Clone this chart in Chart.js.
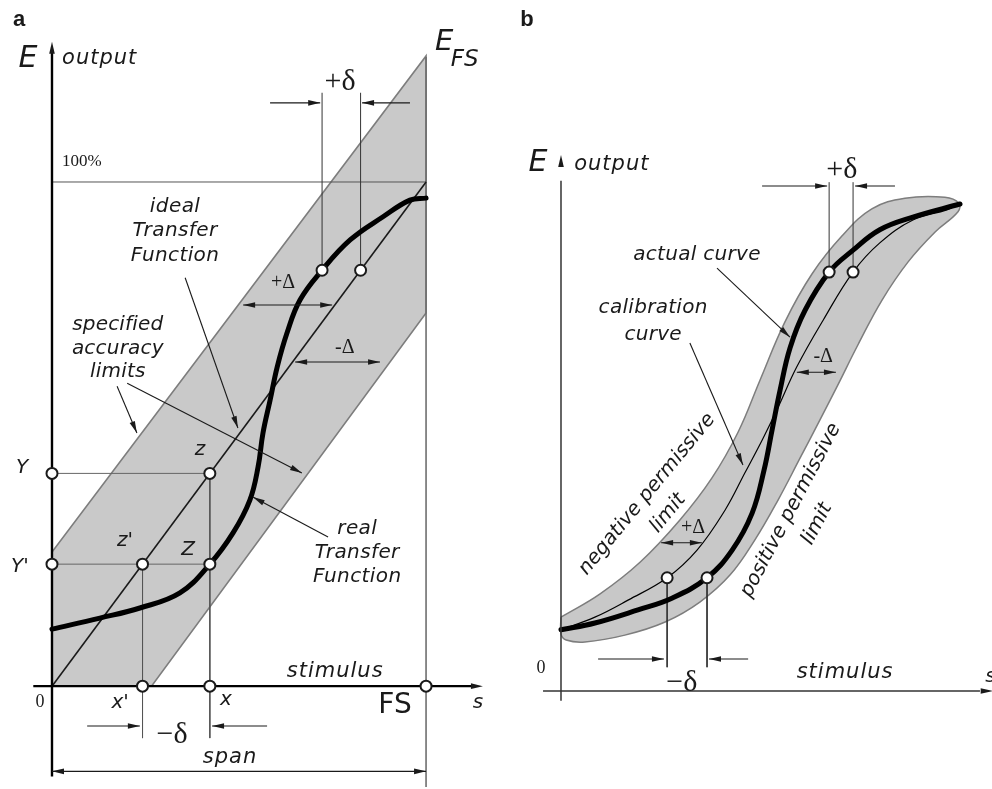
<!DOCTYPE html>
<html>
<head>
<meta charset="utf-8">
<script src="https://cdn.jsdelivr.net/npm/chart.js@4.4.1/dist/chart.umd.min.js"></script>
<style>
  html, body { margin: 0; padding: 0; background: #fff; }
  #wrap { position: relative; width: 992px; height: 789px; overflow: hidden; }
  canvas { position: absolute; top: 0; }
  #chartA { left: 0; }
  #chartB { left: 496px; }
</style>
</head>
<body>
<div id="wrap">
  <canvas id="chartA" width="496" height="789"></canvas>
  <canvas id="chartB" width="496" height="789"></canvas>
</div>
<script>
// ---- panel a : stimulus in % of FS, output in % of E_FS ----
const idealS = [0, 100];
const idealE = [0, 100];
const realS = [0, 12.8, 23.5, 34.2, 42.2, 48.4, 52.9, 55.1, 56.4, 58.3, 60.2, 62.8, 66.3, 72.2, 79.7, 88.5, 95.7, 100];
const realE = [11.3, 13.5, 15.5, 18.5, 24.2, 30.4, 36.9, 43.5, 50.2, 56.7, 63.3, 70.0, 76.6, 82.5, 88.5, 93.1, 96.4, 96.8];
const limitS = [0, 0, 100, 100, 26.6];
const limitE = [0, 26.6, 125, 74, 0];
// marked points: Y, z, Y', z', Z, x', x, FS, real, ideal
const markS = [0, 42.2, 0, 24.2, 42.2, 24.2, 42.2, 100, 72.2, 82.5];
const markE = [42.2, 42.2, 24.2, 24.2, 24.2, 0, 0, 0, 82.5, 82.5];

// ---- panel b ----
const calS = [0, 8.5, 16.8, 26.6, 34.1, 41.1, 46.1, 50.4, 54.1, 59.1, 65.7, 73.2, 79.9, 88.2, 96.7, 100];
const calE = [12.6, 15.2, 18.7, 23.3, 29.0, 37.2, 44.9, 51.6, 57.8, 66.7, 76.3, 86.2, 92.2, 96.9, 99.0, 100.2];
const actS = [0, 8.5, 19.3, 27.8, 36.6, 42.9, 47.9, 50.9, 52.9, 54.9, 57.4, 61.2, 67.2, 73.2, 79.9, 88.2, 100];
const actE = [12.6, 14.0, 16.7, 19.1, 23.3, 29.0, 36.6, 45.5, 53.7, 61.9, 70.6, 78.4, 86.2, 90.7, 94.9, 97.5, 100.2];
const negLimS = [0, 9.8, 19.8, 29.8, 37.8, 44.4, 49.9, 56.1, 62.9, 70.4, 77.9, 86.2, 96.2, 99.7];
const negLimE = [15.2, 20.0, 26.5, 35.2, 43.8, 53.3, 64.0, 75.9, 85.8, 93.6, 99.2, 101.4, 101.6, 100.4];
const posLimS = [99.5, 93.7, 87.0, 80.5, 74.4, 69.4, 64.9, 59.9, 54.4, 48.6, 42.4, 34.8, 26.1, 16.0, 6.0, 1.3, 0];
const posLimE = [98.6, 94.4, 88.3, 80.5, 71.2, 63.0, 55.8, 47.9, 39.3, 31.1, 23.9, 18.3, 14.2, 11.5, 10.1, 10.5, 11.7];
// marked points: calibration low, actual low, actual high, calibration high
const markBS = [26.6, 36.6, 67.2, 73.2];
const markBE = [23.3, 23.3, 86.2, 86.2];

const SANS = '"DejaVu Sans"';
const SERIF = '"Liberation Serif"';
const INK = '#1a1a1a';

function xy(xs, ys) {
  return xs.map((x, i) => ({ x: x, y: ys[i] }));
}

function seg(x1, y1, x2, y2, color, width, order) {
  return {
    data: [{ x: x1, y: y1 }, { x: x2, y: y2 }],
    showLine: true, borderColor: color, borderWidth: width,
    pointRadius: 0, order: order
  };
}

function arrowHead(ctx, x1, y1, x2, y2) {
  const a = Math.atan2(y2 - y1, x2 - x1);
  const L = 12, W = 2.8;
  ctx.beginPath();
  ctx.moveTo(x2, y2);
  ctx.lineTo(x2 - L * Math.cos(a) + W * Math.sin(a), y2 - L * Math.sin(a) - W * Math.cos(a));
  ctx.lineTo(x2 - L * Math.cos(a) - W * Math.sin(a), y2 - L * Math.sin(a) + W * Math.cos(a));
  ctx.closePath();
  ctx.fill();
}

// labels, arrows and leaders drawn in data units through the chart scales
function notes(lines, texts) {
  return {
    id: 'notes',
    afterDatasetsDraw(chart) {
      const ctx = chart.ctx;
      const X = v => chart.scales.x.getPixelForValue(v);
      const Y = v => chart.scales.y.getPixelForValue(v);
      ctx.save();
      ctx.strokeStyle = INK;
      ctx.fillStyle = INK;
      lines.forEach(l => {
        const x1 = X(l[0]), y1 = Y(l[1]), x2 = X(l[2]), y2 = Y(l[3]);
        ctx.lineWidth = l[5] || 1.1;
        if (!l[6]) {
          ctx.beginPath();
          ctx.moveTo(x1, y1);
          ctx.lineTo(x2, y2);
          ctx.stroke();
        }
        if (l[4] === 'end' || l[4] === 'both') arrowHead(ctx, x1, y1, x2, y2);
        if (l[4] === 'both') arrowHead(ctx, x2, y2, x1, y1);
      });
      texts.forEach(t => {
        ctx.save();
        ctx.font = t.f;
        ctx.letterSpacing = (t.ls || 0) + 'px';
        ctx.textAlign = t.a || 'center';
        ctx.textBaseline = 'middle';
        ctx.translate(t.px !== undefined ? t.px : X(t.x), t.py !== undefined ? t.py : Y(t.y));
        if (t.r) ctx.rotate(t.r * Math.PI / 180);
        ctx.fillText(t.s, 0, 0);
        ctx.restore();
      });
      ctx.restore();
    }
  };
}

function baseOptions(xmin, xmax, ymin, ymax) {
  return {
    responsive: false,
    animation: false,
    devicePixelRatio: 1,
    layout: { padding: 0, autoPadding: false },
    plugins: { legend: { display: false }, tooltip: { enabled: false } },
    elements: { line: { tension: 0 } },
    scales: {
      x: { type: 'linear', display: false, min: xmin, max: xmax },
      y: { type: 'linear', display: false, min: ymin, max: ymax }
    }
  };
}

function openPoints(xs, ys) {
  return {
    data: xy(xs, ys), showLine: false, order: 0,
    pointRadius: 5.5, pointBorderWidth: 2,
    pointBackgroundColor: '#fff', pointBorderColor: INK
  };
}

function curve(xs, ys, width, order) {
  return {
    data: xy(xs, ys), showLine: true, borderColor: '#000',
    borderWidth: width, pointRadius: 0, tension: 0.4, order: order,
    borderCapStyle: 'round'
  };
}

// ---------------- panel a ----------------
const it = 'oblique 20px ' + SANS;
const lab = 'oblique 20px ' + SANS;
const dsA = [
  {
    data: xy(limitS.concat(limitS[0]), limitE.concat(limitE[0])),
    showLine: true, fill: 'shape', backgroundColor: '#c9c9c9',
    borderColor: '#7d7d7d', borderWidth: 1.6, pointRadius: 0, order: 10
  },
  seg(0, idealE[1], idealS[1], idealE[1], '#555', 1, 8),
  seg(limitS[2], -20, limitS[2], 124.8, '#6e6e6e', 1.6, 8),
  seg(markS[0], markE[0], markS[1], markE[1], '#666', 1, 6),
  seg(markS[2], markE[2], markS[4], markE[4], '#666', 1, 6),
  seg(markS[3], markE[3], markS[5], -10.3, '#555', 1, 6),
  seg(markS[1], markE[1], markS[6], -10.3, '#555', 1, 6),
  seg(markS[8], markE[8], markS[8], 117.7, '#333', 1, 6),
  seg(markS[9], markE[9], markS[9], 117.7, '#333', 1, 6),
  {
    data: xy(idealS, idealE), showLine: true, borderColor: INK,
    borderWidth: 1.6, pointRadius: 0, order: 4
  },
  curve(realS, realE, 5, 3),
  seg(0, -17.9, 0, 126, '#000', 2.4, 2),
  seg(-5, 0, 113, 0, '#000', 2.4, 2),
  openPoints(markS, markE)
];

const linesA = [
  [0, 120, 0, 127.8, 'end', 2, true],
  [110, 0, 115.2, 0, 'end', 2, true],
  [58.3, 115.7, 71.7, 115.7, 'end'],
  [95.7, 115.7, 82.9, 115.7, 'end'],
  [51.1, 75.6, 74.9, 75.6, 'both'],
  [65.0, 64.3, 87.7, 64.3, 'both'],
  [35.6, 81.0, 49.7, 51.2, 'end'],
  [17.4, 59.5, 22.7, 50.2, 'end'],
  [20.1, 60.1, 66.8, 42.3, 'end'],
  [73.8, 29.6, 53.7, 37.5, 'end'],
  [9.4, -7.9, 23.5, -7.9, 'end'],
  [57.5, -7.9, 42.8, -7.9, 'end'],
  [0, -16.9, 100, -16.9, 'both']
];
const textsA = [
  { s: 'a', px: 19, py: 20, f: 'bold 22px "Liberation Sans"' },
  { s: 'E', x: -6.4, y: 124.4, f: 'oblique 30px ' + SANS },
  { s: 'output', x: 2.7, y: 124.4, a: 'left', f: 'oblique 21px ' + SANS, ls: 1 },
  { s: 'E', x: 102.4, y: 127.6, a: 'left', f: 'oblique 29px ' + SANS },
  { s: 'FS', x: 106.6, y: 124.2, a: 'left', f: 'oblique 23px ' + SANS },
  { s: '+δ', x: 77.0, y: 119.8, f: '30px ' + SERIF },
  { s: '100%', x: 2.7, y: 104.0, a: 'left', f: '17px ' + SERIF },
  { s: 'ideal', x: 32.9, y: 95.0, f: lab, ls: 0.4 },
  { s: 'Transfer', x: 32.9, y: 90.3, f: lab, ls: 0.4 },
  { s: 'Function', x: 32.9, y: 85.3, f: lab, ls: 0.4 },
  { s: '+Δ', x: 61.8, y: 80.0, f: '20px ' + SERIF },
  { s: '-Δ', x: 78.3, y: 67.1, f: '20px ' + SERIF },
  { s: 'specified', x: 17.6, y: 71.6, f: lab, ls: 0.2 },
  { s: 'accuracy', x: 17.6, y: 66.9, f: lab, ls: 0.2 },
  { s: 'limits', x: 17.6, y: 62.3, f: lab, ls: 0.2 },
  { s: 'z', x: 39.6, y: 46.8, f: it },
  { s: 'Y', x: -8.0, y: 43.3, f: it },
  { s: "Y'", x: -8.6, y: 23.6, f: it },
  { s: "z'", x: 19.5, y: 28.8, f: it },
  { s: 'Z', x: 36.4, y: 27.0, f: it },
  { s: 'real', x: 81.6, y: 31.3, f: lab, ls: 0.4 },
  { s: 'Transfer', x: 81.6, y: 26.4, f: lab, ls: 0.4 },
  { s: 'Function', x: 81.6, y: 21.6, f: lab, ls: 0.4 },
  { s: 'stimulus', x: 75.7, y: 2.8, f: 'oblique 21px ' + SANS, ls: 1 },
  { s: '0', x: -3.2, y: -3.2, f: '18px ' + SERIF },
  { s: "x'", x: 18.2, y: -3.4, f: it },
  { s: 'x', x: 46.5, y: -2.8, f: it },
  { s: 'FS', x: 91.7, y: -3.8, f: '28px ' + SANS },
  { s: 's', x: 113.9, y: -3.4, f: it },
  { s: '−δ', x: 32.1, y: -9.7, f: '30px ' + SERIF },
  { s: 'span', x: 47.6, y: -14.1, f: 'oblique 21px ' + SANS, ls: 1 }
];

new Chart(document.getElementById('chartA'), {
  type: 'scatter',
  data: { datasets: dsA },
  options: baseOptions(-13.9, 118.7, -20.4, 136.1),
  plugins: [notes(linesA, textsA)]
});

// ---------------- panel b ----------------
const dsB = [
  {
    data: xy(negLimS.concat(posLimS, negLimS[0]), negLimE.concat(posLimE, negLimE[0])),
    showLine: true, fill: 'shape', backgroundColor: '#c8c8c8',
    borderColor: '#7d7d7d', borderWidth: 1.5, pointRadius: 0, tension: 0.4, order: 10
  },
  seg(markBS[0], markBE[0], markBS[0], 4.9, '#333', 1, 6),
  seg(markBS[1], markBE[1], markBS[1], 4.9, '#333', 1, 6),
  seg(markBS[2], markBE[2], markBS[2], 104.7, '#333', 1, 6),
  seg(markBS[3], markBE[3], markBS[3], 104.7, '#333', 1, 6),
  curve(calS, calE, 1.2, 4),
  curve(actS, actE, 5, 3),
  seg(0, -2, 0, 105, '#333', 1.5, 2),
  seg(-4.5, 0, 105, 0, '#333', 1.5, 2),
  openPoints(markBS, markBE)
];

const linesB = [
  [0, 104, 0, 110.3, 'end', 1.5, true],
  [100, 0, 108.2, 0, 'end', 1.5, true],
  [50.4, 103.9, 66.7, 103.9, 'end'],
  [83.7, 103.9, 73.7, 103.9, 'end'],
  [59.1, 65.6, 68.9, 65.6, 'both'],
  [25.1, 30.5, 35.3, 30.5, 'both'],
  [9.3, 6.6, 25.8, 6.6, 'end'],
  [46.9, 6.6, 37.1, 6.6, 'end'],
  [39.1, 87.0, 57.4, 72.8, 'end'],
  [32.3, 71.6, 45.6, 46.5, 'end']
];
const textsB = [
  { s: 'b', px: 31, py: 20, f: 'bold 22px "Liberation Sans"' },
  { s: 'E', x: -5.8, y: 108.6, f: 'oblique 30px ' + SANS },
  { s: 'output', x: 3.3, y: 108.4, a: 'left', f: 'oblique 21px ' + SANS, ls: 1 },
  { s: '+δ', x: 70.4, y: 107.2, f: '30px ' + SERIF },
  { s: 'actual curve', x: 34.1, y: 89.7, f: lab, ls: 0.3 },
  { s: 'calibration', x: 23.1, y: 78.8, f: lab, ls: 0.3 },
  { s: 'curve', x: 23.1, y: 73.3, f: lab, ls: 0.3 },
  { s: '-Δ', x: 65.7, y: 68.7, f: '20px ' + SERIF },
  { s: 'negative permissive', x: 21.6, y: 40.5, r: -50.5, f: lab },
  { s: 'limit', x: 26.8, y: 36.6, r: -50.5, f: lab },
  { s: 'positive permissive', x: 57.6, y: 37.2, r: -62.2, f: lab },
  { s: 'limit', x: 64.2, y: 34.4, r: -62.2, f: lab },
  { s: '+Δ', x: 33.1, y: 33.5, f: '20px ' + SERIF },
  { s: '−δ', x: 30.3, y: 1.6, f: '30px ' + SERIF },
  { s: 'stimulus', x: 71.2, y: 3.7, f: 'oblique 21px ' + SANS, ls: 1 },
  { s: '0', x: -5.0, y: 4.7, f: '18px ' + SERIF },
  { s: 's', x: 106.3, y: 2.9, a: 'left', f: it }
];

new Chart(document.getElementById('chartB'), {
  type: 'scatter',
  data: { datasets: dsB },
  options: baseOptions(-16.29, 108.02, -20.16, 142.18),
  plugins: [notes(linesB, textsB)]
});
</script>
</body>
</html>
